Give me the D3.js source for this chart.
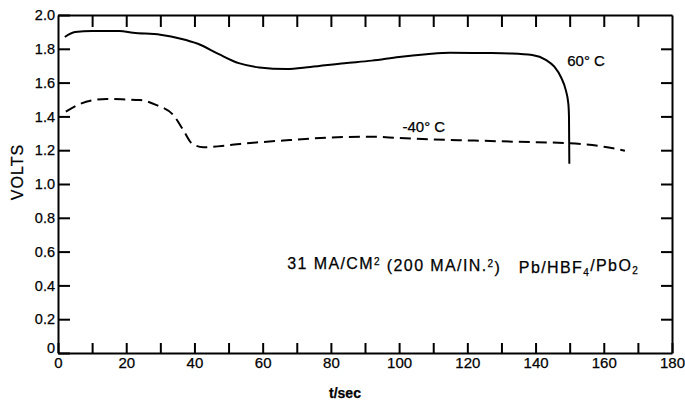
<!DOCTYPE html>
<meta charset="utf-8">
<script src="https://d3js.org/d3.v7.min.js"></script>
<style>
  body { margin: 0; background: #fff; }
  text { font-family: "Liberation Sans", Arial, sans-serif; fill: #000; stroke: #000; stroke-width: 0.25px; }
</style>
<div id="chart"></div>
<script>
// 60 C discharge curve (solid)
var hotT = [2, 5, 10, 18, 22, 30, 36, 41, 47, 53, 59, 67, 74, 84, 92, 100, 108, 115, 125, 133, 139, 143, 145.5, 147.5, 148.8, 149.6, 149.8, 149.9];
var hotV = [1.87, 1.90, 1.905, 1.905, 1.895, 1.883, 1.86, 1.83, 1.77, 1.715, 1.69, 1.68, 1.693, 1.715, 1.73, 1.752, 1.768, 1.777, 1.775, 1.772, 1.763, 1.735, 1.694, 1.63, 1.56, 1.477, 1.40, 1.12];
// -40 C discharge curve (dashed)
var coldT = [2.3, 6.4, 10, 14.3, 20, 24, 28.9, 33.8, 36.7, 39.2, 42.6, 48, 53.4, 68, 80, 91.5, 100, 110, 122, 134.5, 150, 160, 166.2];
var coldV = [1.428, 1.473, 1.495, 1.503, 1.50, 1.497, 1.467, 1.408, 1.32, 1.241, 1.217, 1.225, 1.237, 1.26, 1.275, 1.28, 1.272, 1.264, 1.257, 1.25, 1.241, 1.221, 1.197];

var xTicks = d3.range(0, 181, 10);
var yTicks = d3.range(0, 11).map(function(i) { return i * 0.2; });

var W = 685, H = 402;
var margin = {top: 15, right: 13, bottom: 49, left: 58};
var width = W - margin.left - margin.right,
    height = H - margin.top - margin.bottom;

var svg = d3.select("#chart").append("svg")
    .attr("width", W).attr("height", H);
var g = svg.append("g")
    .attr("transform", "translate(" + margin.left + "," + margin.top + ")");

var x = d3.scaleLinear().domain([0, 180]).range([0, width]);
var y = d3.scaleLinear().domain([0, 2.0]).range([height, 0]);

// bottom axis, labels every 20
var bottom = g.append("g")
    .attr("transform", "translate(0," + height + ")")
    .call(d3.axisBottom(x).tickValues(xTicks)
      .tickSizeInner(-10).tickSizeOuter(0).tickPadding(3)
      .tickFormat(function(d) { return d % 20 === 0 ? d : ""; }));

g.append("g")
    .call(d3.axisTop(x).tickValues(xTicks.slice(1, -1))
      .tickSizeInner(-12).tickSizeOuter(0).tickFormat(""));

var left = g.append("g")
    .call(d3.axisLeft(y).tickValues(yTicks)
      .tickSizeInner(-12).tickSizeOuter(0).tickPadding(3)
      .tickFormat(function(d) { return d === 0 ? "0" : d.toFixed(1); }));

g.append("g")
    .attr("transform", "translate(" + width + ",0)")
    .call(d3.axisRight(y).tickValues(yTicks.slice(1, -1))
      .tickSizeInner(-11).tickSizeOuter(0).tickFormat(""));

g.selectAll(".domain").attr("stroke", "#000").attr("stroke-width", 2);
g.selectAll(".tick line").attr("stroke", "#000").attr("stroke-width", 2);
g.selectAll(".tick text")
  .style("font-family", "'Liberation Sans', Arial, sans-serif")
  .attr("fill", "#000");
bottom.selectAll(".tick text").style("font-size", "15px").attr("dy", "0.8em");
left.selectAll(".tick text").style("font-size", "14.5px")
  .attr("dy", function(d) { return d === 0 ? "-0.05em" : "0.33em"; });

// curves
var line = d3.line()
    .x(function(d) { return x(d[0]); })
    .y(function(d) { return y(d[1]); })
    .curve(d3.curveMonotoneX);

g.append("path")
    .datum(hotT.map(function(t, i) { return [t, hotV[i]]; }))
    .attr("fill", "none").attr("stroke", "#000").attr("stroke-width", 2)
    .attr("d", line);

g.append("path")
    .datum(coldT.map(function(t, i) { return [t, coldV[i]]; }))
    .attr("fill", "none").attr("stroke", "#000").attr("stroke-width", 2)
    .attr("stroke-dasharray", "11,6")
    .attr("d", line);

// curve labels
g.append("text").attr("x", x(149.3)).attr("y", y(1.70))
    .style("font-size", "15px").text("60\u00B0 C");
g.append("text").attr("x", x(101)).attr("y", y(1.305))
    .style("font-size", "15px").text("-40\u00B0 C");

// condition annotation
var note = g.append("text").attr("x", x(67.2)).attr("y", y(0.5))
    .style("font-size", "16px").style("letter-spacing", "1.4px");
note.append("tspan").text("31 MA/CM");
note.append("tspan").attr("dy", "-0.35em").style("font-size", "10px").text("2");
note.append("tspan").attr("dy", "0.35em").text(" (200 MA/IN.");
note.append("tspan").attr("dy", "-0.35em").style("font-size", "10px").text("2");
note.append("tspan").attr("dy", "0.35em").text(")\u00A0\u00A0\u00A0Pb/HBF");
note.append("tspan").attr("dy", "0.3em").style("font-size", "10px").text("4");
note.append("tspan").attr("dy", "-0.3em").text("/PbO");
note.append("tspan").attr("dy", "0.3em").style("font-size", "10px").text("2");

// axis titles
svg.append("text")
    .attr("transform", "translate(23,172) rotate(-90)")
    .attr("text-anchor", "middle")
    .style("font-size", "16px").style("letter-spacing", "1px")
    .text("VOLTS");

svg.append("text")
    .attr("x", 345).attr("y", 398)
    .attr("text-anchor", "middle")
    .style("font-size", "14px").style("font-weight", "bold")
    .text("t/sec");
</script>
